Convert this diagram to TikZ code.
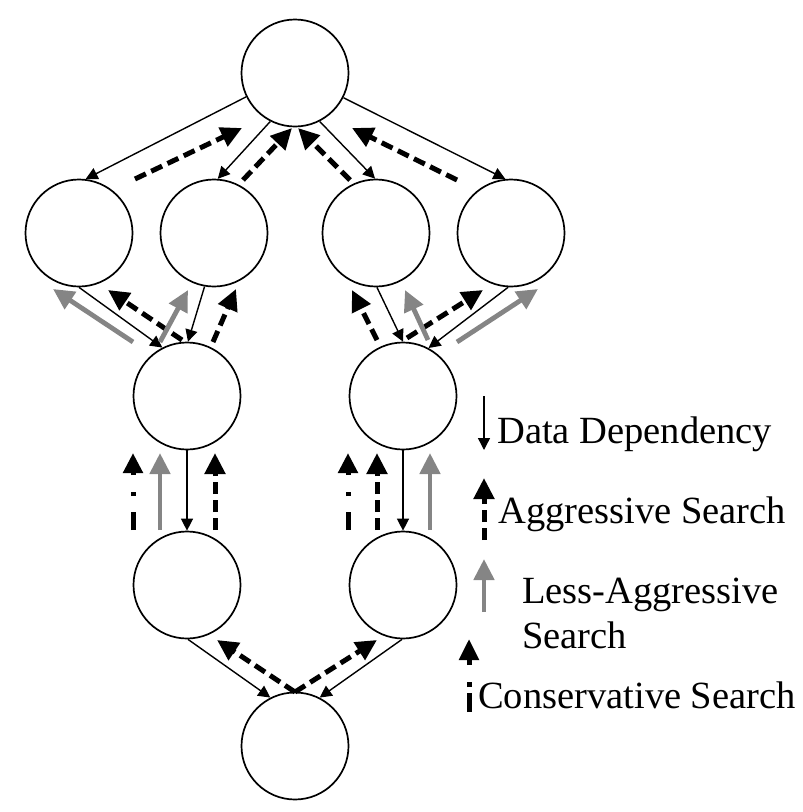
\documentclass[tikz,border=0pt]{standalone}
\usepackage{fontspec}
\setmainfont{Liberation Serif}
\usetikzlibrary{arrows.meta}
\definecolor{lessgray}{RGB}{133,133,133}
\tikzset{
  nodecirc/.style={circle, draw, line width=1.7pt, minimum size=107pt, inner sep=0pt},
  datadep/.style={line width=1.4pt, -{Triangle[length=12pt,width=12pt]}},
  aggr/.style={line width=5pt, dash pattern=on 12pt off 6pt, -{Triangle[length=21pt,width=20pt]}},
  lessaggr/.style={line width=4.8pt, draw=lessgray, -{Triangle[length=21pt,width=20pt]}},
  cons/.style={line width=5pt, dash pattern=on 18pt off 16pt on 4pt off 17pt on 20pt off 0pt, -{Triangle[length=20pt,width=19pt]}},
  conslegend/.style={line width=5pt, dash pattern=on 19pt off 6pt on 5pt off 17pt on 20pt off 0pt, -{Triangle[length=21pt,width=19pt]}},
  legtext/.style={anchor=base west, inner sep=0pt, font=\fontsize{38.5}{45}\selectfont}
}
\begin{document}
\begin{tikzpicture}[x=1pt,y=-1pt]
\useasboundingbox (0,0) rectangle (803,812);
% nodes
\node[nodecirc] (T) at (295,73) {};
\node[nodecirc] (A) at (79,233) {};
\node[nodecirc] (B) at (214,233) {};
\node[nodecirc] (C) at (376,233) {};
\node[nodecirc] (D) at (511,233) {};
\node[nodecirc] (L) at (187,396) {};
\node[nodecirc] (R) at (403,396) {};
\node[nodecirc] (LL) at (187,585) {};
\node[nodecirc] (RR) at (403,585) {};
\node[nodecirc] (Bot) at (295,746) {};
% data dependencies
\draw[datadep] (T.206) -- (A.83);
\draw[datadep] (T.243) -- (B.86);
\draw[datadep] (T.297) -- (C.91);
\draw[datadep] (T.333) -- (D.96);
\draw[datadep] (A.270) -- (L.117);
\draw[datadep] (B.260) -- (L.89);
\draw[datadep] (C.271) -- (R.90);
\draw[datadep] (D.267) -- (R.62);
\draw[datadep] (L.270) -- (LL.90);
\draw[datadep] (R.270) -- (RR.90);
\draw[datadep] (LL.271) -- (Bot.117);
\draw[datadep] (RR.269) -- (Bot.63);
% coordinates for search arrows
\coordinate (a1s) at (135,179); \coordinate (a1e) at (242,128);
\coordinate (a2s) at (243,180); \coordinate (a2e) at (292,128);
\coordinate (a3s) at (350,180); \coordinate (a3e) at (298,128);
\coordinate (a4s) at (457,180); \coordinate (a4e) at (352,128);
\coordinate (a5s) at (182,340); \coordinate (a5e) at (108,290);
\coordinate (a6s) at (213,342); \coordinate (a6e) at (236,289);
\coordinate (a7s) at (377,340); \coordinate (a7e) at (352,290);
\coordinate (a8s) at (407,338); \coordinate (a8e) at (483,290);
\coordinate (a9s) at (215,530); \coordinate (a9e) at (215,453);
\coordinate (a10s) at (377,530); \coordinate (a10e) at (377,453);
\coordinate (a11s) at (295,692); \coordinate (a11e) at (217,640);
\coordinate (a12e) at (377,640);
\coordinate (g1s) at (133,342); \coordinate (g1e) at (53,289);
\coordinate (g2s) at (160,342); \coordinate (g2e) at (188,290);
\coordinate (g3s) at (428,340); \coordinate (g3e) at (405,290);
\coordinate (g4s) at (457,342); \coordinate (g4e) at (538,289);
\coordinate (g5s) at (160,530); \coordinate (g5e) at (160,453);
\coordinate (g6s) at (430,530); \coordinate (g6e) at (430,453);
\coordinate (c1s) at (133,530); \coordinate (c1e) at (133,453);
\coordinate (c2s) at (348,530); \coordinate (c2e) at (348,453);
% aggressive
\foreach \i in {1,...,10} {\draw[aggr] (a\i s) -- (a\i e);}
\draw[aggr] (a11s) -- (a11e);
\draw[aggr] (a11s) -- (a12e);
% less aggressive
\foreach \i in {1,...,6} {\draw[lessaggr] (g\i s) -- (g\i e);}
% conservative
\draw[cons] (c1s) -- (c1e);
\draw[cons] (c2s) -- (c2e);
% legend
\coordinate (ld1) at (484,396); \coordinate (ld2) at (484,450);
\coordinate (la1) at (484,540); \coordinate (la2) at (484,478);
\coordinate (lg1) at (484,612); \coordinate (lg2) at (484,559);
\coordinate (lc1) at (469,712); \coordinate (lc2) at (469,639);
\draw[datadep] (ld1) -- (ld2);
\draw[aggr] (la1) -- (la2);
\draw[lessaggr] (lg1) -- (lg2);
\draw[conslegend] (lc1) -- (lc2);
\node[legtext] (tdd) at (497,443) {Data Dependency};
\node[legtext] (tag) at (498,523) {Aggressive Search};
\node[legtext] (tla) at (522,603) {Less-Aggressive};
\node[legtext] (tls) at (522,648) {Search};
\node[legtext] (tcs) at (478,708) {Conservative Search};
\end{tikzpicture}
\end{document}
